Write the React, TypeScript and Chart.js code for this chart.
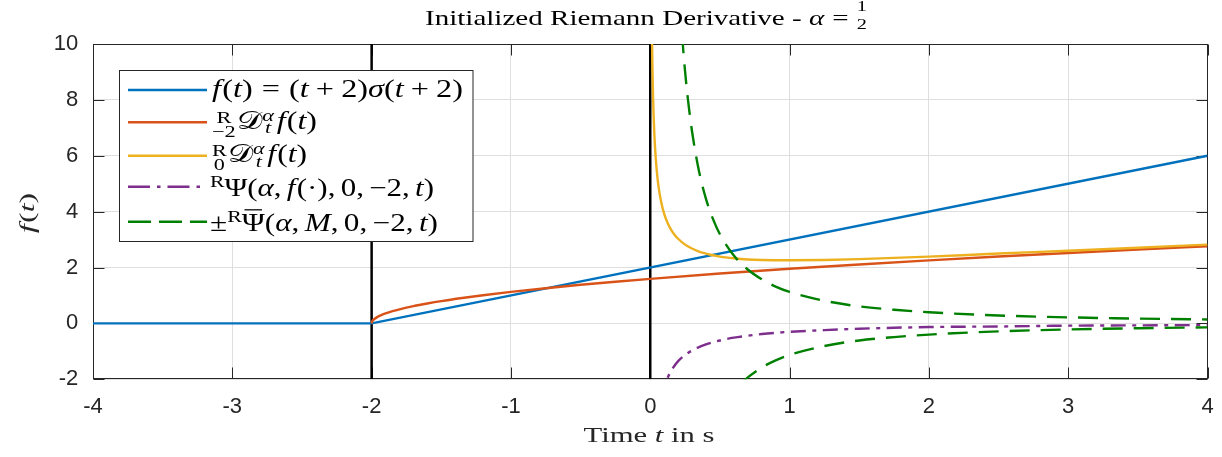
import React, { useEffect, useRef } from 'react';
import { Chart, registerables } from 'chart.js';

Chart.register(...registerables);

// f(t) = (t+2)·σ(t+2)
const stepT = [-4, -2, 4];
const stepF = [0, 0, 6];

// Riemann derivative initialised at t = -2
const fullT = [-2, -1.995, -1.99, -1.98, -1.96, -1.93, -1.9, -1.85, -1.8, -1.7, -1.6, -1.5, -1.35, -1.2, -1, -0.75, -0.5, -0.25, 0, 0.5, 1, 1.5, 2, 2.5, 3, 3.5, 4];
const fullD = [0, 0.08, 0.113, 0.16, 0.226, 0.298, 0.357, 0.437, 0.504, 0.618, 0.713, 0.798, 0.909, 1.009, 1.128, 1.261, 1.382, 1.492, 1.595, 1.784, 1.954, 2.11, 2.256, 2.393, 2.522, 2.645, 2.763];

// Riemann derivative started at t = 0
const zeroT = [0.01, 0.012, 0.015, 0.02, 0.03, 0.04, 0.05, 0.06, 0.08, 0.1, 0.12, 0.15, 0.18, 0.2, 0.25, 0.3, 0.35, 0.4, 0.45, 0.5, 0.6, 0.7, 0.8, 1, 1.25, 1.5, 2, 2.5, 3, 3.5, 4];
const zeroD = [11.39, 10.42, 9.35, 8.14, 6.71, 5.87, 5.3, 4.88, 4.31, 3.92, 3.65, 3.35, 3.14, 3.03, 2.82, 2.68, 2.57, 2.5, 2.44, 2.39, 2.33, 2.29, 2.27, 2.26, 2.27, 2.3, 2.39, 2.5, 2.6, 2.71, 2.82];

// Initialisation function Ψ
const psiT = [0.08, 0.1, 0.12, 0.15, 0.2, 0.25, 0.3, 0.4, 0.5, 0.6, 0.7, 0.8, 1, 1.25, 1.5, 2, 2.5, 3, 3.5, 4];
const psiV = [-2.68, -2.29, -2.0, -1.7, -1.35, -1.13, -0.97, -0.75, -0.61, -0.51, -0.44, -0.38, -0.3, -0.24, -0.19, -0.13, -0.11, -0.08, -0.07, -0.06];

// Bound ±Ψ̄
const boundT = [0.2, 0.23, 0.25, 0.27, 0.3, 0.35, 0.4, 0.45, 0.5, 0.6, 0.7, 0.8, 0.9, 1, 1.25, 1.5, 1.75, 2, 2.5, 3, 3.5, 4];
const boundHi = [12.6, 10.23, 9.02, 8.04, 6.87, 5.45, 4.46, 3.74, 3.19, 2.43, 1.93, 1.58, 1.32, 1.128, 0.81, 0.61, 0.49, 0.4, 0.285, 0.217, 0.172, 0.141];
const boundLoT = [0.65, 0.7, 0.8, 0.9, 1, 1.25, 1.5, 1.75, 2, 2.5, 3, 3.5, 4];
const boundLo = [-2.15, -1.93, -1.58, -1.32, -1.128, -0.81, -0.61, -0.49, -0.4, -0.285, -0.217, -0.172, -0.141];

// vertical markers at the two lower limits
const markerT = [-2, 0];
const markerSpan = [-2, 10];

const xRange = [-4, 4];
const yRange = [-2, 10];
const xStep = 1;
const yStep = 2;

// series styles
const COLORS = ['#0072BD', '#D95319', '#EDB120', '#7E2F8E', '#008000'];
const DASH_PLOT: number[][] = [[], [], [], [15, 6.5, 4, 6.5], [20, 11]];
const DASH_LEGEND: number[][] = [[], [], [], [22, 7, 3.5, 7], [23, 8]];
const LINE_W = 2.4;

const pts = (xs: number[], ys: number[]) => xs.map((x, k) => ({ x, y: ys[k] }));

// ---- small math-text renderer for the canvas ----
type Seg = {
  s?: string;
  it?: boolean;
  gap?: number;
  bar?: boolean;
  up?: string;
  dn?: string;
  upIt?: boolean;
  dnIt?: boolean;
  upDy?: number;
  dnDy?: number;
  sc?: number;
  dy?: number;
};

const SERIF = '"Liberation Serif", "DejaVu Serif", serif';
const fnt = (size: number, it?: boolean) => `${it ? 'italic ' : ''}${size}px ${SERIF}`;
const r = (s: string): Seg => ({ s });
const i = (s: string): Seg => ({ s, it: true });
const g = (w: number): Seg => ({ gap: w });

function segWidth(ctx: CanvasRenderingContext2D, seg: Seg, size: number) {
  if (seg.gap != null) return seg.gap * size;
  if (seg.up != null || seg.dn != null) {
    const sz = size * (seg.sc ?? 0.7);
    let w = 0;
    if (seg.up) {
      ctx.font = fnt(sz, seg.upIt);
      w = Math.max(w, ctx.measureText(seg.up).width);
    }
    if (seg.dn) {
      ctx.font = fnt(sz, seg.dnIt);
      w = Math.max(w, ctx.measureText(seg.dn).width);
    }
    return w;
  }
  ctx.font = fnt(size * (seg.sc ?? 1), seg.it);
  return ctx.measureText(seg.s || '').width;
}

function drawMath(
  ctx: CanvasRenderingContext2D,
  segs: Seg[],
  x: number,
  y: number,
  size: number,
  width: number,
  color: string
) {
  const ws = segs.map((s) => segWidth(ctx, s, size));
  const total = ws.reduce((a, b) => a + b, 0);
  const sx = width / total;
  ctx.save();
  ctx.translate(x, y);
  ctx.scale(sx, 1);
  ctx.fillStyle = color;
  ctx.textAlign = 'left';
  ctx.textBaseline = 'alphabetic';
  let cx = 0;
  segs.forEach((seg, k) => {
    if (seg.gap == null) {
      if (seg.up != null || seg.dn != null) {
        const sz = size * (seg.sc ?? 0.7);
        if (seg.up) {
          ctx.font = fnt(sz, seg.upIt);
          const w = ctx.measureText(seg.up).width;
          ctx.fillText(seg.up, cx + (ws[k] - w) / 2, (seg.upDy ?? -0.35) * size);
        }
        if (seg.dn) {
          ctx.font = fnt(sz, seg.dnIt);
          const w = ctx.measureText(seg.dn).width;
          ctx.fillText(seg.dn, cx + (ws[k] - w) / 2, (seg.dnDy ?? 0.25) * size);
        }
      } else {
        ctx.font = fnt(size * (seg.sc ?? 1), seg.it);
        ctx.fillText(seg.s || '', cx, (seg.dy ?? 0) * size);
        if (seg.bar) {
          ctx.fillRect(cx + ws[k] * 0.12, -0.86 * size, ws[k] * 0.76, Math.max(1, size * 0.05));
        }
      }
    }
    cx += ws[k];
  });
  ctx.restore();
}

const legendLabels: Seg[][] = [
  [i('f'), g(0.04), r('('), i('t'), r(')'), g(0.28), r('='), g(0.28), r('('), i('t'), g(0.22), r('+'), g(0.22), r('2'), r(')'), i('σ'), r('('), i('t'), g(0.22), r('+'), g(0.22), r('2'), r(')')],
  [{ up: 'R', dn: '−2', upDy: -0.25, dnDy: 0.3 }, g(0.03), r('𝒟'), { up: 'α', dn: 't', upIt: true, dnIt: true, upDy: -0.33, dnDy: 0.17 }, g(0.08), i('f'), g(0.04), r('('), i('t'), r(')')],
  [{ up: 'R', dn: '0', upDy: -0.25, dnDy: 0.3 }, g(0.03), r('𝒟'), { up: 'α', dn: 't', upIt: true, dnIt: true, upDy: -0.33, dnDy: 0.17 }, g(0.08), i('f'), g(0.04), r('('), i('t'), r(')')],
  [{ up: 'R', upDy: -0.33 }, r('Ψ'), r('('), i('α'), r(','), g(0.17), i('f'), g(0.04), r('('), r('·'), r(')'), r(','), g(0.17), r('0'), r(','), g(0.17), r('−2'), r(','), g(0.17), i('t'), r(')')],
  [r('±'), { up: 'R', upDy: -0.33 }, { s: 'Ψ', bar: true }, r('('), i('α'), r(','), g(0.17), i('M'), r(','), g(0.17), r('0'), r(','), g(0.17), r('−2'), r(','), g(0.17), i('t'), r(')')],
];

const titleSegs: Seg[] = [r('Initialized Riemann Derivative - '), i('α'), g(0.28), r('='), g(0.28), { up: '1', dn: '2', upDy: -0.62, dnDy: 0.2 }];
const xTitleSegs: Seg[] = [r('Time '), i('t'), r(' in s')];
const yTitleSegs: Seg[] = [i('f'), g(0.04), r('('), i('t'), r(')')];

// legend geometry
const LEG = { x: 119.5, y: 70, w: 353.5, h: 171 };
const legRowY = [90, 122.3, 155.7, 186.7, 221.7];
const legBase = [97.4, 129.1, 162.4, 195.7, 230.7];
const legTextX = [212, 212, 212, 210, 210];
const legTextW = [251, 105, 95, 224, 228];

const framePlugin = {
  id: 'frameTicks',
  beforeDatasetsDraw(chart: any) {
    const { ctx, chartArea: a, scales } = chart;
    const L = Math.round(a.left) + 0.5;
    const R = Math.round(a.right) - 0.5;
    const T = Math.round(a.top) + 0.5;
    const B = Math.round(a.bottom) - 0.5;
    ctx.save();
    ctx.strokeStyle = '#262626';
    ctx.lineWidth = 1;
    ctx.beginPath();
    const tl = 11;
    scales.x.ticks.forEach((t: any) => {
      const px = Math.round(scales.x.getPixelForValue(t.value)) + 0.5;
      ctx.moveTo(px, B);
      ctx.lineTo(px, B - tl);
      ctx.moveTo(px, T);
      ctx.lineTo(px, T + tl);
    });
    scales.y.ticks.forEach((t: any) => {
      const py = Math.round(scales.y.getPixelForValue(t.value)) + 0.5;
      ctx.moveTo(L, py);
      ctx.lineTo(L + tl, py);
      ctx.moveTo(R, py);
      ctx.lineTo(R - tl, py);
    });
    ctx.stroke();
    ctx.strokeRect(L, T, R - L, B - T);
    ctx.restore();
  },
};

const textPlugin = {
  id: 'mathText',
  afterDraw(chart: any) {
    const ctx: CanvasRenderingContext2D = chart.ctx;
    ctx.save();
    // legend
    ctx.fillStyle = '#ffffff';
    ctx.fillRect(LEG.x, LEG.y, LEG.w, LEG.h);
    ctx.strokeStyle = '#262626';
    ctx.lineWidth = 1;
    ctx.strokeRect(LEG.x, LEG.y + 0.5, LEG.w, LEG.h);
    legRowY.forEach((yy, k) => {
      ctx.beginPath();
      ctx.strokeStyle = COLORS[k];
      ctx.lineWidth = LINE_W;
      ctx.setLineDash(DASH_LEGEND[k]);
      ctx.moveTo(128, yy);
      ctx.lineTo(207, yy);
      ctx.stroke();
    });
    ctx.setLineDash([]);
    legendLabels.forEach((segs, k) => drawMath(ctx, segs, legTextX[k], legBase[k], 25, legTextW[k], '#000'));

    // title and axis titles
    drawMath(ctx, titleSegs, 425, 25, 22, 442, '#000');
    drawMath(ctx, xTitleSegs, 583.5, 441.7, 20.5, 131, '#262626');
    ctx.save();
    ctx.translate(33.5, 233);
    ctx.rotate(-Math.PI / 2);
    drawMath(ctx, yTitleSegs, 0, 0, 20, 40, '#262626');
    ctx.restore();
    ctx.restore();
  },
};

export default function App() {
  const ref = useRef<HTMLCanvasElement>(null);

  useEffect(() => {
    const canvas = ref.current;
    if (!canvas) return;
    const line = (data: any, k: number, order: number, smooth = true) => ({
      data,
      borderColor: COLORS[k],
      backgroundColor: COLORS[k],
      borderWidth: LINE_W,
      borderDash: DASH_PLOT[k],
      cubicInterpolationMode: smooth ? 'monotone' : 'default',
      tension: 0,
      pointRadius: 0,
      fill: false,
      clip: 0,
      order,
    });
    const markers = markerT.map((t) => ({
      data: pts([t, t], markerSpan),
      borderColor: '#000000',
      borderWidth: 2.5,
      pointRadius: 0,
      fill: false,
      clip: 0,
      order: 10,
    }));
    const tickFont = { family: '"Liberation Sans", Arial, sans-serif', size: 22 };
    const chart = new Chart(canvas, {
      type: 'line',
      data: {
        datasets: [
          ...markers,
          line(pts(stepT, stepF), 0, 6, false),
          line(pts(fullT, fullD), 1, 5),
          line(pts(zeroT, zeroD), 2, 4),
          line(pts(psiT, psiV), 3, 3),
          line(pts(boundT, boundHi), 4, 2),
          line(pts(boundLoT, boundLo), 4, 1),
        ] as any,
      },
      options: {
        animation: false,
        responsive: false,
        devicePixelRatio: 1,
        layout: { padding: { top: 44, right: 14.5, left: 0, bottom: 0 } },
        plugins: {
          legend: { display: false },
          title: { display: false },
          tooltip: { enabled: false },
        },
        events: [],
        scales: {
          x: {
            type: 'linear',
            min: xRange[0],
            max: xRange[1],
            ticks: {
              stepSize: xStep,
              padding: 14.5,
              color: '#262626',
              font: tickFont,
              callback: (v: any) => String(v),
            },
            grid: { color: '#dfdfdf', lineWidth: 1, drawTicks: false },
            border: { display: false },
            afterFit: (s: any) => {
              s.height = 77.7;
              s.paddingLeft = 0;
              s.paddingRight = 0;
            },
          },
          y: {
            type: 'linear',
            min: yRange[0],
            max: yRange[1],
            ticks: {
              stepSize: yStep,
              padding: 14.7,
              color: '#262626',
              font: tickFont,
              callback: (v: any) => String(v),
            },
            grid: { color: '#dfdfdf', lineWidth: 1, drawTicks: false },
            border: { display: false },
            afterFit: (s: any) => {
              s.width = 93;
              s.paddingTop = 0;
              s.paddingBottom = 0;
            },
          },
        },
      } as any,
      plugins: [framePlugin, textPlugin],
    });
    return () => chart.destroy();
  }, []);

  return (
    <div style={{ position: 'absolute', left: 0, top: 0, width: 1222, height: 457, background: '#ffffff' }}>
      <canvas ref={ref} width={1222} height={457} style={{ display: 'block' }} />
    </div>
  );
}
